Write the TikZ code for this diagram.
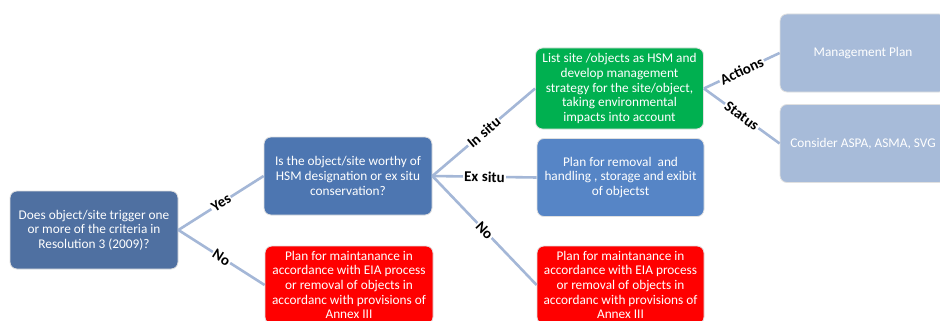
\documentclass[tikz,border=0pt]{standalone}
\usepackage{fontspec}
\setmainfont{Carlito}
\definecolor{darkbox}{RGB}{79,112,161}
\definecolor{midbox}{RGB}{77,118,177}
\definecolor{lightbox}{RGB}{86,133,198}
\definecolor{greenbox}{RGB}{0,176,80}
\definecolor{redbox}{RGB}{255,0,0}
\definecolor{paleblue}{RGB}{167,187,217}
\definecolor{linkblue}{RGB}{164,183,215}
\begin{document}
\begin{tikzpicture}[x=1pt, y=-1pt,
                    box/.style = {shape = rectangle,
                                  rounded corners = 7pt,
                                  draw = black!12,
                                  line width = 0.8pt,
                                  text = white,
                                  align = center,
                                  inner sep = 0pt,
                                  minimum width = 168pt,
                                  minimum height = 78pt,
                                  font = \fontsize{13.3}{14.6}\selectfont},
                    link/.style = {draw = linkblue,
                                   line width = 2.6pt},
                    lbl/.style = {fill = white,
                                  inner sep = 1.2pt,
                                  sloped,
                                  text = black,
                                  font = \fontsize{15}{16}\selectfont\bfseries}]
		\clip (0,0) rectangle (940,321);
		\fill[white] (0,0) rectangle (940,321);
		\node[box, fill = darkbox] (trigger) at (94,230) {Does object/site trigger one\\or more of the criteria in\\Resolution 3 (2009)?};
		\node[box, fill = midbox] (worthy) at (348,176) {Is the object/site worthy of\\HSM designation or ex situ\\conservation?};
		\node[box, fill = redbox] (maintA) at (349,285) {Plan for maintanance in\\accordance with EIA process\\or removal of objects in\\accordanc with provisions of\\Annex III};
		\node[box, fill = greenbox, minimum height = 81pt] (insitu) at (619.5,88.5) {List site /objects as HSM and\\develop management\\strategy for the site/object,\\taking environmental\\impacts into account};
		\node[box, fill = lightbox, minimum width = 167pt] (exsitu) at (620.5,177.5) {Plan for removal\ \ and\\handling , storage and exibit\\of objectst};
		\node[box, fill = redbox, minimum width = 167pt] (maintB) at (620.5,285) {Plan for maintanance in\\accordance with EIA process\\or removal of objects in\\accordanc with provisions of\\Annex III};
		\node[box, fill = paleblue, minimum width = 166pt] (plan) at (863,53) {Management Plan};
		\node[box, fill = paleblue, minimum width = 166pt] (status) at (863,143.5) {Consider ASPA, ASMA, SVG};
		\path[link] (trigger.east) edge node[lbl] {Yes} (worthy.west);
		\path[link] (trigger.east) edge node[lbl] {No} (maintA.west);
		\path[link] (worthy.east) edge node[lbl] {In situ} (insitu.west);
		\path[link] (worthy.east) edge node[lbl] {Ex situ} (exsitu.west);
		\path[link] (worthy.east) edge node[lbl] {No} (maintB.west);
		\path[link] (insitu.east) edge node[lbl] {Actions} (plan.west);
		\path[link] (insitu.east) edge node[lbl] {Status} (status.west);
	\end{tikzpicture}
\end{document}
